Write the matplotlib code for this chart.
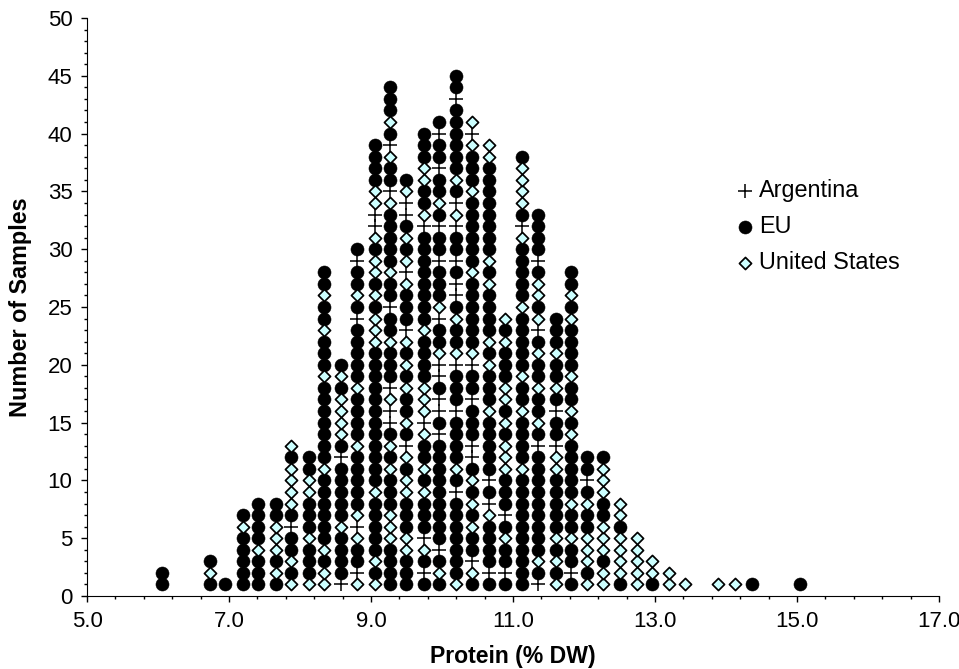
import matplotlib
matplotlib.use("Agg")
import matplotlib.pyplot as plt
from matplotlib.ticker import FixedLocator, FormatStrFormatter, MultipleLocator
import numpy as np

plt.rcParams['font.family'] = ['Liberation Sans', 'DejaVu Sans']

# Центры столбцов
protein = [6.05, 6.73, 6.95, 7.20, 7.41, 7.66, 7.87, 8.13, 8.34, 8.58, 8.80, 9.05, 9.27,
           9.49, 9.74, 9.96, 10.20, 10.42, 10.66, 10.89, 11.13, 11.35, 11.60, 11.82, 12.04,
           12.27, 12.50, 12.74, 12.96, 13.20, 13.42, 13.89, 14.13, 14.36, 15.04]

# Стопки снизу вверх: A - Argentina, E - EU, U - United States (пробел через 5 образцов)
stacks = [
    "EE",
    "EUE",
    "E",
    "EEEEE UE",
    "EEEUE EEE",
    "EUEUU UEE",
    "UEUEE AEUUU UEU",
    "UEEEU EEEUU EE",
    "UUEUE EEEEE UEEEE EEEUE EEUEE UEE",
    "AEEEE UEEEE EAEUU UUEUE",
    "UAEEU AUEEE EEUEE EEUEE EEEAE UEEAE",
    "UEUEE EEEUE EEEEE EEEEE EUUUE UEUUE UAAUU EEEE",
    "EEEEU UUEEE UEUEA AUAEE EUEEA EEUEE EEEUA EEUAE UEEE",
    "EEEUU EEEUU EUAEU EEUEU EUAEE EUAUE UEAAU E",
    "EAEUA EEEUE UEEUA UUUEE EEUEE EEEEE EAUEE UUEEE",
    "EUEAE EEEEE EEEAE AAEAA UEEAU EEEAE EAEUE EAEEA E",
    "UEEEE EEEAE UEEEE AEEEA UEEUE AAEAE EAUAE UEEEE EEAEE",
    "EUAEE UEUEU EAAEE EAEEA UEEEE EEUEE EEEEU EEEUA U",
    "EAEEE EUAEA EEEEE UEEEU EUEEE EUEUE EEEEE EEUU",
    "EAEEU EAEEE UUUEU EUUEE EUEU",
    "EEEEE EEEEE UEEEE UEEUE EEEEU EEEEE UAEUU UUE",
    "AEUEE EEEEE EEAEU EEUEE UEAUE UUEAE EEE",
    "UEUEU EEEEE UUAEE AEUEE UEEE",
    "EAEEU EEUEE EEEUE UEEUE EEEUE UEE",
    "UEUUU EEUEA EE",
    "UUEUU UEEUU UE",
    "EUUUU EUU",
    "UUUUU",
    "EUU",
    "UU",
    "U",
    "U",
    "U",
    "E",
    "E",
]

names = {"A": "Argentina", "E": "EU", "U": "United States"}
styles = {
    "A": dict(marker="+", s=100, c="black", linewidths=1.1),
    "E": dict(marker="o", s=88, c="black", edgecolors="black", linewidths=0.4),
    "U": dict(marker="D", s=38, c="#CCFFFF", edgecolors="black", linewidths=1.25),
}


def series_points(code):
    xs, ys = [], []
    for x, stack in zip(protein, stacks):
        for level, item in enumerate(stack.replace(" ", ""), start=1):
            if item == code:
                xs.append(x)
                ys.append(level)
    return xs, ys


fig = plt.figure(figsize=(9.59, 6.69), dpi=100)
ax = fig.add_axes([87 / 959, 1 - 596 / 669, 852 / 959, 578 / 669])

for code in "AEU":
    xs, ys = series_points(code)
    ax.scatter(xs, ys, label=names[code], zorder=3, clip_on=False, **styles[code])

ax.set_xlim(5, 17)
ax.set_ylim(0, 50)
ax.xaxis.set_major_locator(FixedLocator(np.arange(5, 17.1, 2)))
ax.xaxis.set_minor_locator(FixedLocator(np.arange(5, 17.01, 0.4)))
ax.xaxis.set_major_formatter(FormatStrFormatter("%.1f"))
ax.yaxis.set_major_locator(MultipleLocator(5))
ax.yaxis.set_minor_locator(MultipleLocator(1))
ax.tick_params(which="major", direction="out", length=4.5, width=1, labelsize=16, pad=6)
ax.tick_params(which="minor", direction="out", length=2.5, width=1)
ax.spines["top"].set_visible(False)
ax.spines["right"].set_visible(False)

ax.set_xlabel("Protein (% DW)", fontsize=16.6, fontweight="bold", labelpad=9.5)
ax.set_ylabel("Number of Samples", fontsize=16.8, fontweight="bold", labelpad=11.5)

ax.legend(loc="upper left", bbox_to_anchor=(726 / 959, 1 - 179 / 669),
          bbox_transform=fig.transFigure, frameon=False, fontsize=16.8,
          handletextpad=-0.2, labelspacing=0.55, borderpad=0, borderaxespad=0,
          scatterpoints=1, handlelength=1.6)

fig.savefig("out.png", dpi=100)
